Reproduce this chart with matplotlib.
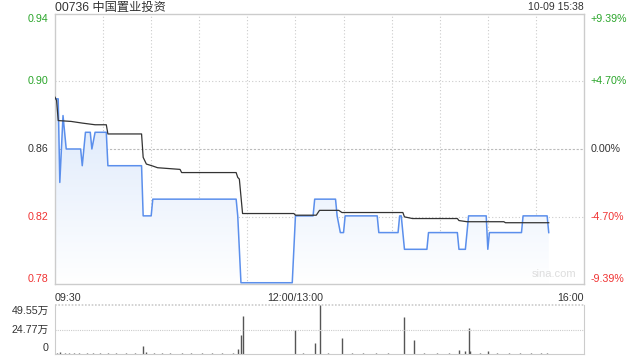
import numpy as np
import matplotlib
matplotlib.use('Agg')
import matplotlib.pyplot as plt
from matplotlib.patches import Polygon

plt.rcParams['font.family'] = ['Liberation Sans', 'Noto Sans CJK SC', 'DejaVu Sans']

# 数据: 分钟序号 (09:30 起, 午休已去掉, 共 330 分钟)
price_min = [0, 2, 3, 5, 7, 16, 17, 18, 19, 22, 23, 25, 32, 33, 54, 55, 60, 61,
             113, 114, 116, 148, 150, 161, 162, 175, 176, 178, 180, 181, 201, 202,
             214, 215, 216, 218, 232, 233, 251, 252, 256, 258, 269, 270, 271, 291,
             292, 307, 308]
price = [0.89, 0.89, 0.84, 0.88, 0.86, 0.86, 0.85, 0.86, 0.87, 0.87, 0.86, 0.87,
         0.87, 0.85, 0.85, 0.82, 0.82, 0.83, 0.83, 0.82, 0.78, 0.78, 0.82, 0.82,
         0.83, 0.83, 0.82, 0.81, 0.81, 0.82, 0.82, 0.81, 0.81, 0.82, 0.82, 0.80,
         0.80, 0.81, 0.81, 0.80, 0.80, 0.82, 0.82, 0.80, 0.81, 0.81, 0.82, 0.82,
         0.81]

avg_min = [0, 1, 2, 10, 17, 25, 32, 33, 54, 55, 57, 61, 64, 78, 79, 113, 114, 115,
           117, 149, 150, 163, 165, 177, 179, 217, 218, 223, 251, 252, 257, 280,
           281, 308]
avg_price = [0.891, 0.889, 0.877, 0.8765, 0.8755, 0.8745, 0.8745, 0.869, 0.869,
             0.855, 0.851, 0.8498, 0.8488, 0.8478, 0.8459, 0.8459, 0.843, 0.842,
             0.8214, 0.8214, 0.8204, 0.8204, 0.8233, 0.8233, 0.822, 0.822, 0.8194,
             0.8184, 0.8184, 0.8172, 0.8165, 0.8165, 0.8159, 0.8159]

vol_min = [1, 3, 6, 9, 12, 15, 20, 24, 28, 33, 38, 44, 50, 55, 57, 62, 67, 72, 79,
           85, 92, 98, 104, 111, 114, 116, 117, 150, 155, 162, 165, 170, 179, 185,
           192, 200, 208, 218, 224, 230, 238, 246, 252, 256, 258, 259, 265, 270,
           276, 283, 290, 297, 303, 307]
vol = [1.0, 2.0, 0.8, 0.6, 0.9, 0.7, 0.8, 0.6, 0.7, 0.9, 0.6, 0.8, 0.7, 7.7, 2.0,
       0.7, 0.8, 0.6, 1.5, 0.7, 0.6, 0.8, 0.7, 1.5, 5.0, 19.0, 38.6, 24.7, 0.8,
       11.6, 49.55, 0.8, 16.5, 0.7, 0.6, 0.8, 0.7, 37.6, 14.0, 0.8, 0.7, 0.6, 4.0,
       3.0, 26.0, 3.0, 0.8, 3.0, 0.7, 0.6, 0.8, 0.7, 0.6, 0.7]

prev_close = 0.86
pct_levels = [9.39, 4.70, 0.0, -4.70, -9.39]
x_labels = ['09:30', '12:00/13:00', '16:00']

GREEN = '#2aa52a'
RED = '#f03232'
DARK = '#333333'
BORDER = '#cccccc'

fig = plt.figure(figsize=(6.4, 3.6), dpi=100)
ax = fig.add_axes([55/640, 1 - 284/360, 529/640, 270/360])
axv = fig.add_axes([55/640, 1 - 354/360, 529/640, 49/360])

ymin = prev_close * (1 - pct_levels[0] / 100)
ymax = prev_close * (1 + pct_levels[0] / 100)
ax.set_xlim(0, 330)
ax.set_ylim(ymin, ymax)

# 网格
for m in range(30, 330, 30):
    ax.axvline(m, color=BORDER, lw=0.8, ls=(0, (1, 2)), zorder=0)
for p in [4.70, -4.70]:
    ax.axhline(prev_close * (1 + p / 100), color=BORDER, lw=0.8, ls=(0, (1, 2)), zorder=0)
ax.axhline(prev_close, color='#bbbbbb', lw=0.8, ls=(0, (2, 1.5)), zorder=0)

# 渐变填充
poly_xy = [(price_min[0], ymin)] + list(zip(price_min, price)) + [(price_min[-1], ymin)]
poly = Polygon(poly_xy, closed=True, facecolor='none', edgecolor='none')
ax.add_patch(poly)
grad = np.linspace(0, 1, 256).reshape(-1, 1)
top_c = np.array([0.86, 0.91, 0.985])
bot_c = np.array([1.0, 1.0, 1.0])
img = top_c[None, None, :] * (1 - grad[:, :, None]) + bot_c[None, None, :] * grad[:, :, None]
im = ax.imshow(img, extent=[0, 330, ymin, max(price)], origin='upper', aspect='auto', zorder=1)
im.set_clip_path(poly)

ax.plot(price_min, price, color='#5b8fec', lw=1.1, zorder=3)
ax.plot(avg_min, avg_price, color=DARK, lw=0.9, zorder=4)

ax.set_xticks([])
ax.set_yticks([])
for s in ax.spines.values():
    s.set_color(BORDER)
    s.set_linewidth(1)

# 纵轴标签
fs = 7.7
for p in pct_levels:
    y = prev_close * (1 + p / 100)
    col = GREEN if p > 0 else (RED if p < 0 else DARK)
    va = 'top' if p == pct_levels[0] else ('bottom' if p == pct_levels[-1] else 'center')
    ax.text(-4, y, f'{y:.2f}', ha='right', va=va, color=col, fontsize=fs)
    ax.text(334, y, f'{p:+.2f}%' if p != 0 else '0.00%', ha='left', va=va, color=col, fontsize=fs)

# 横轴标签
ax.text(0, -0.035, x_labels[0], transform=ax.transAxes, ha='left', va='top', color=DARK, fontsize=fs)
ax.text(150 / 330, -0.035, x_labels[1], transform=ax.transAxes, ha='center', va='top', color=DARK, fontsize=fs)
ax.text(1, -0.035, x_labels[2], transform=ax.transAxes, ha='right', va='top', color=DARK, fontsize=fs)

ax.text(0.985, 0.02, 'sina.com', transform=ax.transAxes, ha='right', va='bottom',
        color='#dddddd', fontsize=8)

fig.text(55/640, 1 - 7.5/360, '00736 中国置业投资', ha='left', va='center', color=DARK, fontsize=8.8)
fig.text(584/640, 1 - 7.5/360, '10-09 15:38', ha='right', va='center', color=DARK, fontsize=7.5)

# 成交量
vmax = max(vol)
axv.set_xlim(0, 330)
axv.set_ylim(0, vmax)
axv.vlines(vol_min, 0, vol, color='#555555', lw=1)
axv.axhline(vmax / 2, color=BORDER, lw=0.8, ls=(0, (1, 1)))
axv.axhline(vmax, color=BORDER, lw=1.2, ls=(0, (1, 1)), clip_on=False)
axv.set_xticks([])
axv.set_yticks([])
axv.spines['top'].set_visible(False)
for k in ['left', 'right', 'bottom']:
    axv.spines[k].set_color(BORDER)
axv.text(-4, vmax * 0.87, f'{vmax:.2f}万', ha='right', va='center', color=DARK, fontsize=fs)
axv.text(-4, vmax / 2, f'{vmax / 2:.2f}万', ha='right', va='center', color=DARK, fontsize=fs)
axv.text(-4, vmax * 0.12, '0', ha='right', va='center', color=DARK, fontsize=fs)

fig.savefig('out.png', dpi=100)
